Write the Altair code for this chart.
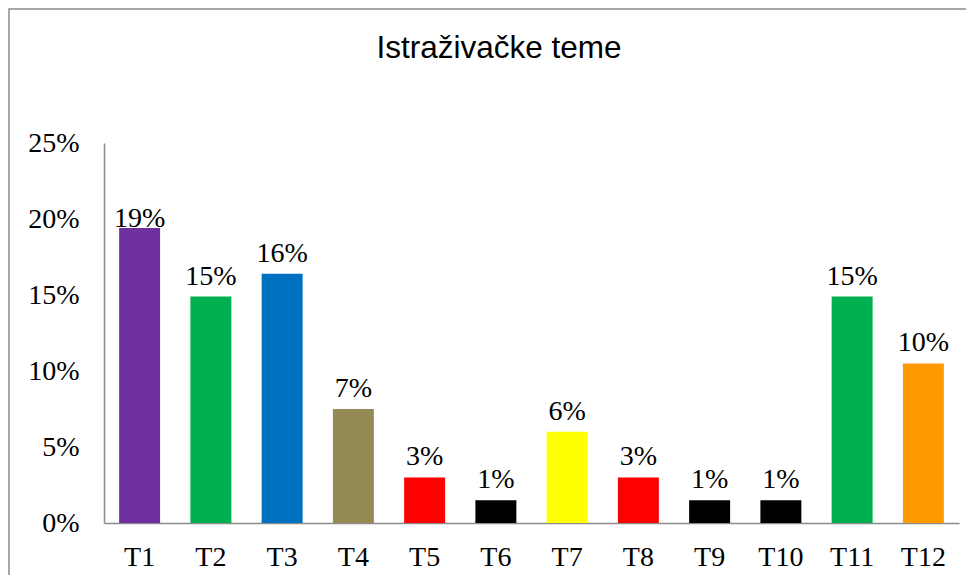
import altair as alt
import pandas as pd

title_text = "Istraživačke teme"
topics = ["T1", "T2", "T3", "T4", "T5", "T6", "T7", "T8", "T9", "T10", "T11", "T12"]
shares = [0.194, 0.149, 0.164, 0.075, 0.030, 0.015, 0.060, 0.030, 0.015, 0.015, 0.149, 0.105]
labels = ["19%", "15%", "16%", "7%", "3%", "1%", "6%", "3%", "1%", "1%", "15%", "10%"]
colors = ["#7030A0", "#00B050", "#0070C0", "#948A54", "#FF0000", "#000000",
          "#FFFF00", "#FF0000", "#000000", "#000000", "#00B050", "#FF9900"]
y_ticks = [0, 0.05, 0.10, 0.15, 0.20, 0.25]

df = pd.DataFrame({"topic": topics, "share": shares, "label": labels})

SERIF = "Liberation Serif"
AXIS_GRAY = "#8c8c8c"
FS = 28

x_enc = alt.X(
    "topic:N", sort=topics, title=None,
    scale=alt.Scale(paddingInner=0.425, paddingOuter=0.2125),
    axis=alt.Axis(labelAngle=0, ticks=False, labelFont=SERIF, labelFontSize=FS,
                  labelColor="#000000", labelPadding=20, domainColor=AXIS_GRAY,
                  domainWidth=1.5, grid=False),
)
y_enc = alt.Y(
    "share:Q", title=None,
    scale=alt.Scale(domain=[0, 0.25], nice=False),
    axis=alt.Axis(values=y_ticks, format=".0%", ticks=False, labelFont=SERIF,
                  labelFontSize=FS, labelColor="#000000", labelPadding=25,
                  domainColor=AXIS_GRAY, domainWidth=1.5, grid=False),
)

base = alt.Chart(df)

bars = base.mark_bar().encode(
    x=x_enc,
    y=y_enc,
    color=alt.Color("topic:N", scale=alt.Scale(domain=topics, range=colors), legend=None),
)

text_common = dict(font=SERIF, fontSize=FS, color="#000000", baseline="alphabetic")
labels_main = base.transform_filter("datum.topic != 'T1'").mark_text(dy=-12, **text_common).encode(
    x=alt.X("topic:N", sort=topics), y="share:Q", text="label:N")
labels_first = base.transform_filter("datum.topic == 'T1'").mark_text(dy=-1, **text_common).encode(
    x=alt.X("topic:N", sort=topics), y="share:Q", text="label:N")

title_df = pd.DataFrame({"t": [title_text]})
title_mark = alt.Chart(title_df).mark_text(
    font="Liberation Sans", fontSize=31.5, color="#000000", baseline="alphabetic", align="center"
).encode(text="t:N", x=alt.value(395), y=alt.value(-85))

frame = alt.Chart(title_df).mark_rect(
    filled=False, stroke="#8a8a8a", strokeWidth=1.5
).encode(x=alt.value(-95), x2=alt.value(950), y=alt.value(-134), y2=alt.value(600))

chart = alt.layer(frame, bars, labels_main, labels_first, title_mark).properties(
    width=855, height=380,
    autosize=alt.AutoSizeParams(type="none"),
    padding={"left": 96, "top": 135, "right": 7, "bottom": 52},
    background="#ffffff",
).configure_view(stroke=None)

chart.save("out.html", embed_options={"renderer": "svg", "actions": False})
